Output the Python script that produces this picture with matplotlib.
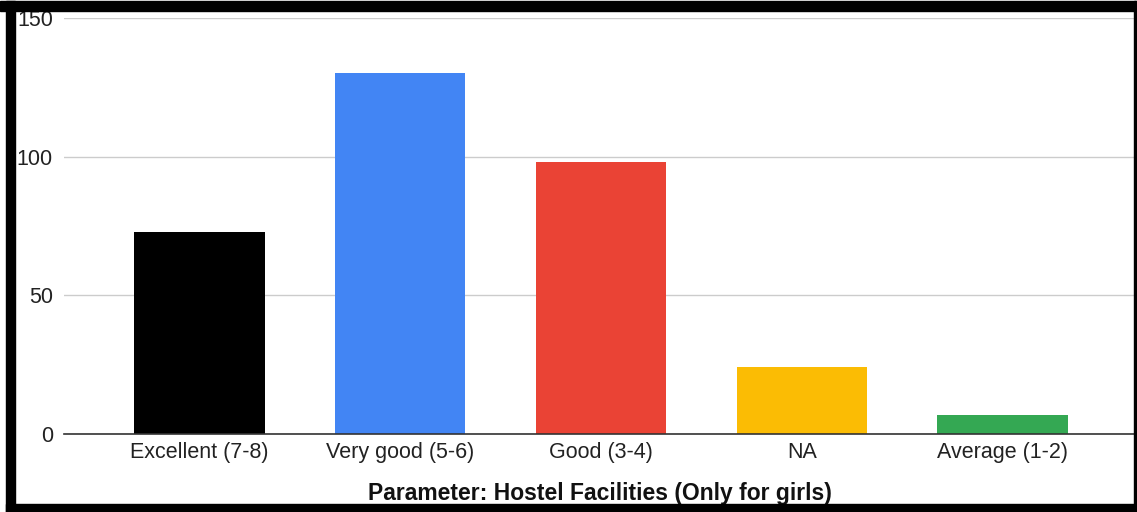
import matplotlib.pyplot as plt
from matplotlib.patches import Rectangle

categories = ['Excellent (7-8)', 'Very good (5-6)', 'Good (3-4)', 'NA', 'Average (1-2)']
counts = [73, 130, 98, 24, 7]
bar_colors = ['#000000', '#4285F4', '#EA4335', '#FBBC04', '#34A853']
y_ticks = [0, 50, 100, 150]

W, H = 1137, 512
plt.rcParams['font.family'] = ['Liberation Sans', 'DejaVu Sans']

fig = plt.figure(figsize=(W / 100, H / 100), dpi=100)
fig.patch.set_facecolor('white')
ax = fig.add_axes([64 / W, (H - 434) / H, (1135 - 64) / W, (434 - 18) / H])

x = range(len(categories))
ax.bar(x, counts, width=0.65, color=bar_colors, zorder=3)

ax.set_ylim(0, 150)
ax.set_xlim(-0.675, 4.66)
ax.set_yticks(y_ticks)
ax.set_xticks(list(x))
ax.set_xticklabels(categories)
ax.grid(axis='y', color='#cccccc', linewidth=1, zorder=0)
ax.tick_params(axis='both', length=0, labelsize=15.5, colors='#222222')
ax.tick_params(axis='y', pad=8)
ax.tick_params(axis='x', pad=6)
for side in ['top', 'right', 'left']:
    ax.spines[side].set_visible(False)
ax.spines['bottom'].set_color('#333333')
ax.spines['bottom'].set_linewidth(1.2)
ax.spines['bottom'].set_zorder(4)

fig.text(600 / W, (H - 500) / H, 'Parameter: Hostel Facilities (Only for girls)',
         ha='center', va='baseline', fontsize=16.5, fontweight='bold', color='#111111')

# black frame around the screenshot
def frame(x0, y0, x1, y1):
    fig.patches.append(Rectangle((x0 / W, 1 - y1 / H), (x1 - x0) / W, (y1 - y0) / H,
                                 transform=fig.transFigure, color='black', zorder=10))

frame(0, 1, W, 11)
frame(6, 1, 15, H)
frame(6, 504, W, H)
frame(1134, 1, 1136, H)

fig.savefig('out.png', dpi=100)
